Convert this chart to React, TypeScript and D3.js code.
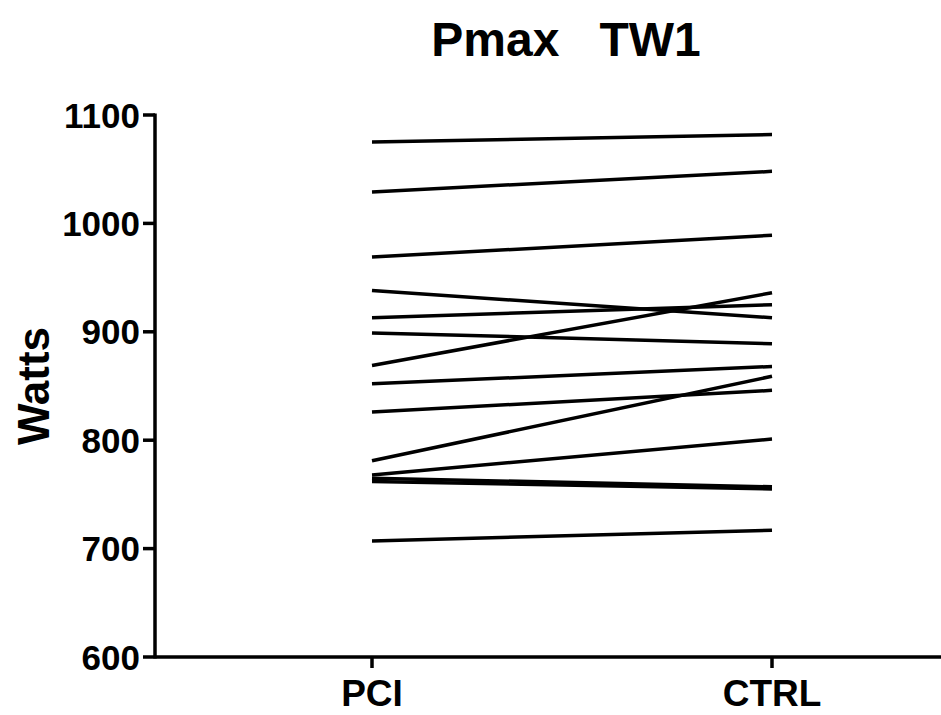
import React from "react";
import * as d3 from "d3";

const groups = ["PCI", "CTRL"];
const pciValues = [1075, 1029, 969, 938, 913, 899, 869, 852, 826, 781, 768, 765, 762, 707];
const ctrlValues = [1082, 1048, 989, 913, 925, 889, 936, 868, 846, 859, 801, 757, 755, 717];
const yTicks = [600, 700, 800, 900, 1000, 1100];
const title = "Pmax   TW1";
const yLabel = "Watts";

export default function App() {
  const W = 941, H = 715;
  const axisX = 155;
  const x = d3.scalePoint<string>().domain(groups).range([372, 772]);
  const y = d3.scaleLinear().domain([600, 1100]).range([657, 115]);
  const font = "'Liberation Sans', Arial, sans-serif";
  const line = d3.line<[string, number]>().x((d) => x(d[0]) as number).y((d) => y(d[1]));
  const pairs = pciValues.map((v, i) => [[groups[0], v], [groups[1], ctrlValues[i]]] as [string, number][]);
  return (
    <svg width={W} height={H} style={{ position: "absolute", left: 0, top: 0, background: "#fff" }}>
      <rect x={0} y={0} width={W} height={H} fill="#fff" />
      <text x={566} y={56} textAnchor="middle" fontFamily={font} fontWeight="bold" fontSize={48} fill="#000" style={{ whiteSpace: "pre" }}>
        {title}
      </text>
      {pairs.map((p, i) => (
        <path key={i} d={line(p) || ""} fill="none" stroke="#000" strokeWidth={3.5} />
      ))}
      <line x1={axisX} x2={axisX} y1={y(1100) - 1.5} y2={y(600) + 1.5} stroke="#000" strokeWidth={3.5} />
      <line x1={axisX} x2={W} y1={y(600)} y2={y(600)} stroke="#000" strokeWidth={3.5} />
      {yTicks.map((t) => (
        <g key={t}>
          <line x1={axisX - 12} x2={axisX} y1={y(t)} y2={y(t)} stroke="#000" strokeWidth={3.5} />
          <text x={axisX - 15} y={y(t)} dy="0.36em" textAnchor="end" fontFamily={font} fontWeight="bold" fontSize={35} fill="#000">
            {t}
          </text>
        </g>
      ))}
      {groups.map((g) => (
        <g key={g}>
          <line x1={x(g)} x2={x(g)} y1={y(600)} y2={y(600) + 11} stroke="#000" strokeWidth={3.5} />
          <text x={x(g)} y={706} textAnchor="middle" fontFamily={font} fontWeight="bold" fontSize={37} fill="#000">
            {g}
          </text>
        </g>
      ))}
      <text transform={`translate(49, ${(y(600) + y(1100)) / 2}) rotate(-90)`} textAnchor="middle" fontFamily={font} fontWeight="bold" fontSize={44} fill="#000">
        {yLabel}
      </text>
    </svg>
  );
}
